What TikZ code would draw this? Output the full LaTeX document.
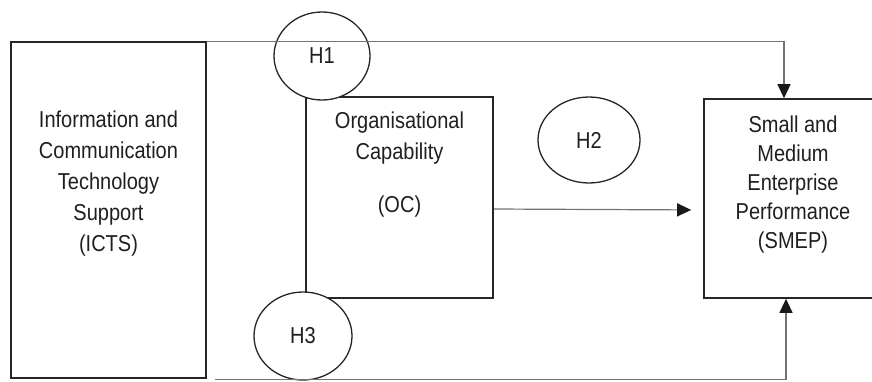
\documentclass[tikz,border=0pt]{standalone}
\usepackage{fontspec}
\setmainfont{Liberation Sans}[FakeStretch=0.87]
\usetikzlibrary{arrows.meta,shapes.geometric}

\begin{document}
\begin{tikzpicture}[x=1pt,y=-1pt,
    every node/.style={font=\fontsize{23}{31}\selectfont,text=black!88,align=center},
    varbox/.style={draw=black!85,line width=1.6pt,rectangle,inner sep=0pt},
    hyp/.style={draw=black!85,line width=1.3pt,ellipse,fill=white,inner sep=0pt},
    link/.style={draw=black!55,line width=1.2pt,-{Triangle[length=14pt,width=13pt,color=black!90]}}]
                \useasboundingbox (0,0) rectangle (872,381);
                \clip (0,0) rectangle (872,381);
                \node[varbox,minimum width=195pt,minimum height=336pt] (icts) at (108.5,210) {};
                \node (icts-t) at (108.5,184) {Information and\\Communication\\Technology\\Support\\(ICTS)};
                \node[varbox,minimum width=187pt,minimum height=201pt] (oc) at (399.5,197.5) {};
                \node (oc-t) at (399.5,165) {Organisational\\Capability\\[22pt](OC)};
                \node[varbox,minimum width=178pt,minimum height=199pt] (smep) at (793,198.5) {};
                \node[font=\fontsize{23}{29}\selectfont] (smep-t) at (793,185) {Small and\\Medium\\Enterprise\\Performance\\(SMEP)};
                \node[hyp,minimum width=96pt,minimum height=88pt] (h1) at (322,56) {H1};
                \node[hyp,minimum width=102pt,minimum height=86pt] (h2) at (589,140) {H2};
                \node[hyp,minimum width=98pt,minimum height=88pt] (h3) at (303,336) {H3};
                \coordinate (bl) at (215,379.5);
                \draw[link] (icts.north east) -| ([xshift=-9pt]smep.north);
                \draw[link,shorten >=12pt] ([yshift=-11.5pt]oc.east) -- ([yshift=-11.5pt]smep.west);
                \draw[link] (bl) -| ([xshift=-7pt]smep.south);
            \end{tikzpicture}
\end{document}
